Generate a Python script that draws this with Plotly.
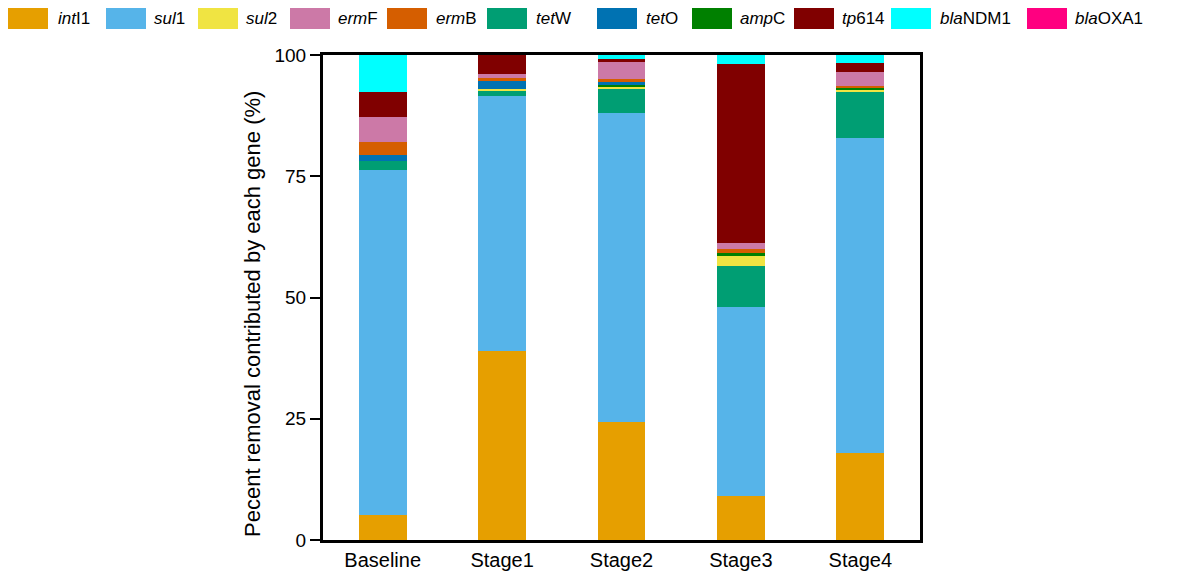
import plotly.graph_objects as go

categories = ["Baseline", "Stage1", "Stage2", "Stage3", "Stage4"]

intI1 = [5.2, 39.0, 24.3, 9.1, 17.9]
sul1 = [71.1, 52.5, 63.8, 38.9, 65.0]
tetW = [1.9, 1.1, 4.8, 8.5, 9.5]
sul2 = [0.0, 0.3, 0.6, 2.1, 0.5]
ampC = [0.0, 0.0, 0.3, 0.6, 0.2]
tetO = [1.2, 1.7, 0.6, 0.0, 0.0]
ermB = [2.7, 0.7, 0.7, 0.7, 0.5]
ermF = [5.2, 0.7, 3.4, 1.3, 2.8]
tp614 = [5.0, 4.0, 0.6, 36.9, 1.9]
blaNDM1 = [7.7, 0.0, 0.9, 1.9, 1.7]
blaOXA1 = [0.0, 0.0, 0.0, 0.0, 0.0]

y_ticks = [0, 25, 50, 75, 100]

# stacking order (bottom -> top)
stack = [
    ("<i>int</i>I1", intI1, "#E69F00"),
    ("<i>sul</i>1", sul1, "#56B4E9"),
    ("<i>tet</i>W", tetW, "#009E73"),
    ("<i>sul</i>2", sul2, "#F0E442"),
    ("<i>amp</i>C", ampC, "#008000"),
    ("<i>tet</i>O", tetO, "#0072B2"),
    ("<i>erm</i>B", ermB, "#D55E00"),
    ("<i>erm</i>F", ermF, "#CC79A7"),
    ("<i>tp</i>614", tp614, "#800000"),
    ("<i>bla</i>NDM1", blaNDM1, "#00FFFF"),
    ("<i>bla</i>OXA1", blaOXA1, "#FF0080"),
]

# legend order
legend_items = [
    ("<i>int</i>I1", "#E69F00"),
    ("<i>sul</i>1", "#56B4E9"),
    ("<i>sul</i>2", "#F0E442"),
    ("<i>erm</i>F", "#CC79A7"),
    ("<i>erm</i>B", "#D55E00"),
    ("<i>tet</i>W", "#009E73"),
    ("<i>tet</i>O", "#0072B2"),
    ("<i>amp</i>C", "#008000"),
    ("<i>tp</i>614", "#800000"),
    ("<i>bla</i>NDM1", "#00FFFF"),
    ("<i>bla</i>OXA1", "#FF0080"),
]

OFF = 8  # page body margin
W, H = 1190 - OFF, 573 - OFF
ML, MT = 323 - OFF, 55 - OFF
MR = W - (920 - OFF)
MB = H - (540 - OFF)
PW, PH = W - ML - MR, H - MT - MB

fig = go.Figure()
for name, vals, col in stack:
    fig.add_trace(go.Bar(x=categories, y=vals, name=name, marker_color=col,
                         marker_line_width=0, width=0.4, showlegend=False))

def px_x(p):
    return (p - OFF - ML) / PW

def px_y(p):
    return (H - MB - (p - OFF)) / PH

sw_left = [8, 106, 198, 290, 387, 487, 597, 692, 794, 891, 1027]
txt_left = [56, 152, 244, 336, 434, 534, 644, 738, 840, 938, 1073]
shapes = []
annotations = []
for (name, col), sl, tl in zip(legend_items, sw_left, txt_left):
    shapes.append(dict(type="rect", xref="paper", yref="paper",
                       x0=px_x(max(sl, OFF)), x1=px_x(sl + 40), y0=px_y(29), y1=px_y(8),
                       fillcolor=col, line=dict(width=0)))
    annotations.append(dict(text=name, xref="paper", yref="paper",
                            x=px_x(tl), y=px_y(18), xanchor="left", yanchor="middle",
                            showarrow=False, font=dict(size=17, color="#000")))

annotations.append(dict(text="Pecent removal contributed by each gene (%)",
                        xref="paper", yref="paper", x=px_x(252), y=px_y(314),
                        textangle=-90, showarrow=False, xanchor="center", yanchor="middle",
                        font=dict(size=22, color="#000")))

fig.update_layout(
    barmode="stack",
    width=W, height=H,
    margin=dict(l=ML, r=MR, t=MT, b=MB, autoexpand=False),
    plot_bgcolor="white", paper_bgcolor="white",
    font=dict(family="Liberation Sans, Arial, sans-serif", size=17, color="#000"),
    shapes=shapes, annotations=annotations,
    xaxis=dict(range=[-0.5, 4.5], showline=True, linecolor="black", linewidth=3,
               mirror=True, ticks="", tickfont=dict(size=20), showgrid=False,
               automargin=False),
    yaxis=dict(range=[0, 100], tickvals=y_ticks, showline=True, linecolor="black",
               linewidth=3, mirror=True, ticks="outside", ticklen=10, tickwidth=2,
               tickcolor="black", tickfont=dict(size=19), showgrid=False,
               zeroline=False, automargin=False),
)

fig.write_html("out.html")
